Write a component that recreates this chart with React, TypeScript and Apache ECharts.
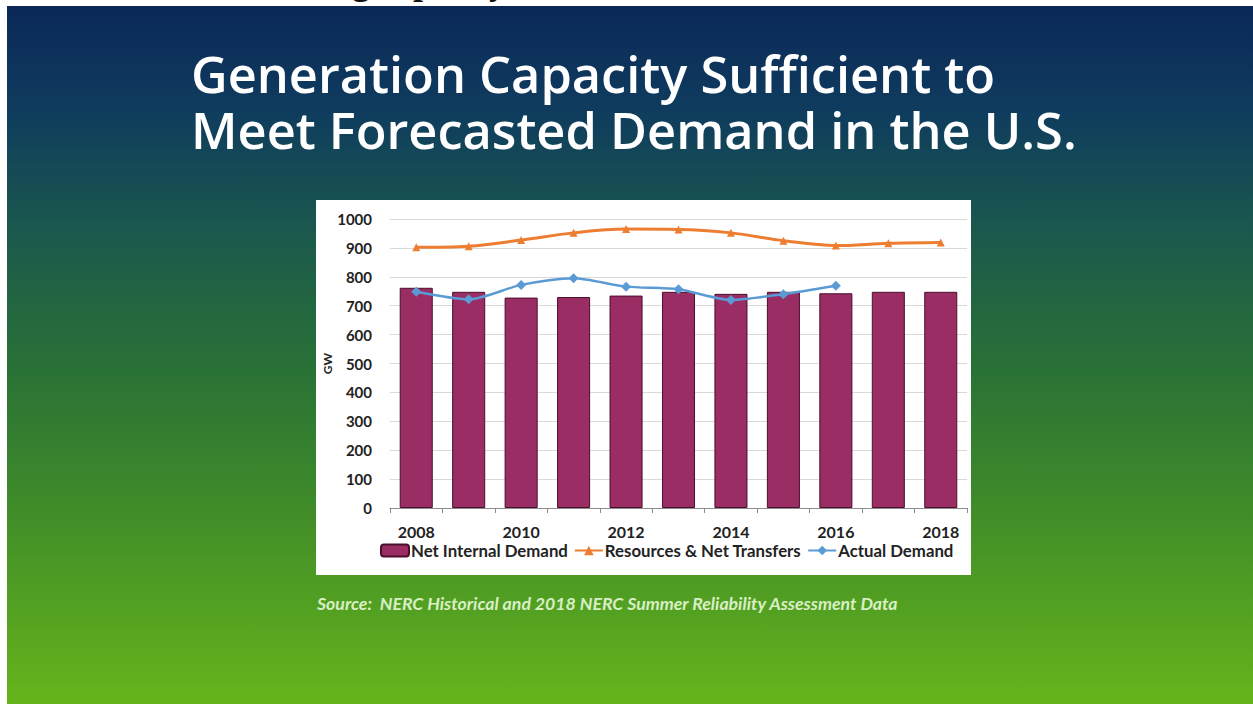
import React, { useEffect, useRef } from "react";
import * as echarts from "echarts";

const years = ["2008", "2009", "2010", "2011", "2012", "2013", "2014", "2015", "2016", "2017", "2018"];
const netInternalDemand = [762, 748, 728, 730, 735, 748, 741, 748, 743, 748, 748];
const resourcesNetTransfers = [902, 906, 927, 952, 965, 964, 952, 925, 908, 916, 919];
const actualDemand: (number | null)[] = [748, 722, 772, 795, 766, 757, 720, 740, 769, null, null];
const seriesNames = ["Net Internal Demand", "Resources & Net Transfers", "Actual Demand"];
const titleLine1 = "Generation Capacity Sufficient to";
const titleLine2 = "Meet Forecasted Demand in the U.S.";
const sourceText = "Source:  NERC Historical and 2018 NERC Summer Reliability Assessment Data";
const clippedHeader = "Generating capacity";

const FONT = "Lato, 'Open Sans', sans-serif";
const TITLE_FONT = "'Open Sans', Lato, sans-serif";

export default function App() {
  const ref = useRef<HTMLDivElement>(null);
  useEffect(() => {
    if (!ref.current) return;
    const chart = echarts.init(ref.current, undefined, { renderer: "svg" });
    chart.setOption({
      animation: false,
      textStyle: { fontFamily: FONT },
      graphic: [
        {
          type: "text",
          z: -30,
          x: 196,
          y: 0,
          style: {
            text: clippedHeader,
            font: "bold 36px 'Liberation Serif', 'DejaVu Serif', serif",
            fill: "#111111",
            verticalAlign: "bottom",
          },
        },
        {
          type: "rect",
          z: -20,
          shape: { x: 7, y: 6, width: 1246, height: 698 },
          style: {
            fill: new echarts.graphic.LinearGradient(0, 0, 0, 1, [
              { offset: 0, color: "#0b2858" },
              { offset: 0.15, color: "#0f3c5e" },
              { offset: 0.33, color: "#1b5a4c" },
              { offset: 0.52, color: "#2a7136" },
              { offset: 0.72, color: "#3f8c29" },
              { offset: 1, color: "#66b41b" },
            ]),
          },
        },
        {
          type: "rect",
          z: -15,
          shape: { x: 316, y: 200, width: 655, height: 375 },
          style: { fill: "#ffffff" },
        },
        {
          type: "text",
          z: -10,
          x: 191,
          y: 73,
          style: {
            text: titleLine1,
            font: `600 50.5px ${TITLE_FONT}`,
            fill: "#ffffff",
            verticalAlign: "middle",
          },
        },
        {
          type: "text",
          z: -10,
          x: 191,
          y: 129,
          style: {
            text: titleLine2,
            font: `600 50.5px ${TITLE_FONT}`,
            fill: "#ffffff",
            verticalAlign: "middle",
          },
        },
        {
          type: "text",
          z: -10,
          x: 317,
          y: 603,
          style: {
            text: sourceText,
            font: `italic bold 17.7px ${FONT}`,
            fill: "#d8efc4",
            verticalAlign: "middle",
          },
        },
      ],
      grid: { left: 390, top: 219, right: 286, bottom: 196, containLabel: false },
      legend: {
        left: 375,
        top: 537,
        itemWidth: 28,
        itemHeight: 12,
        itemGap: 6,
        data: seriesNames,
        textStyle: { fontFamily: FONT, fontSize: 16.8, fontWeight: "bold", color: "#222", padding: [0, 0, 0, -3] },
      },
      xAxis: {
        type: "category",
        data: years,
        boundaryGap: true,
        axisLine: { lineStyle: { color: "#8c8c8c", width: 1 } },
        axisTick: { show: true, interval: 0, alignWithLabel: false, length: 5, lineStyle: { color: "#8c8c8c" } },
        axisLabel: { interval: 1, margin: 15, fontFamily: FONT, fontSize: 16, fontWeight: "bold", color: "#222" },
      },
      yAxis: {
        type: "value",
        min: 0,
        max: 1000,
        interval: 100,
        name: "GW",
        nameLocation: "middle",
        nameRotate: 90,
        nameGap: 50,
        nameTextStyle: { fontFamily: FONT, fontSize: 12, fontWeight: "bold", color: "#222" },
        axisLine: { show: false },
        axisTick: { show: false },
        axisLabel: {
          margin: 18,
          fontFamily: FONT,
          fontSize: 15,
          fontWeight: "bold",
          color: "#222",
          formatter: (v: number) => String(v),
        },
        splitLine: { lineStyle: { color: "#d9d9d9", width: 1 } },
      },
      series: [
        {
          name: seriesNames[0],
          type: "bar",
          data: netInternalDemand,
          barCategoryGap: "37%",
          itemStyle: { color: "#9a2d63", borderColor: "#4a0f2c", borderWidth: 1 },
          z: 2,
        },
        {
          name: seriesNames[1],
          type: "line",
          data: resourcesNetTransfers,
          smooth: 0.35,
          symbol: "triangle",
          symbolSize: 8,
          lineStyle: { color: "#ed7d31", width: 3 },
          itemStyle: { color: "#ed7d31" },
          z: 3,
        },
        {
          name: seriesNames[2],
          type: "line",
          data: actualDemand,
          smooth: 0.25,
          symbol: "diamond",
          symbolSize: 10,
          connectNulls: false,
          lineStyle: { color: "#5b9bd5", width: 2.5 },
          itemStyle: { color: "#5b9bd5" },
          z: 4,
        },
      ],
    });
    return () => chart.dispose();
  }, []);
  return (
    <div
      ref={ref}
      style={{ position: "absolute", left: 0, top: 0, width: 1253, height: 704, background: "#ffffff" }}
    />
  );
}
